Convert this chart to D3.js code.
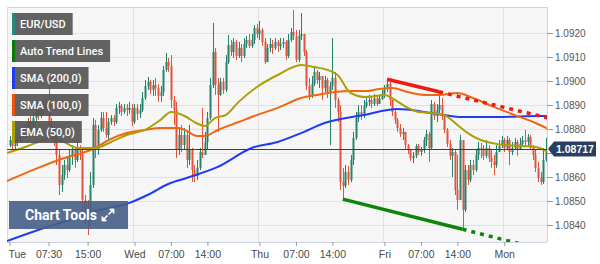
<!DOCTYPE html>
<html><head><meta charset="utf-8">
<script src="https://cdn.jsdelivr.net/npm/d3@7"></script>
<style>html,body{margin:0;padding:0;background:#fff;}svg{display:block;}</style>
</head><body>
<svg id="chart" width="600" height="264"></svg>
<script>
// ---------- DATA ----------
const symbol = "EUR/USD";
const openFirst = 1.08733;
const closes = [
1.08754,1.08729,1.08746,1.08763,1.08788,1.08775,1.08804,1.08829,1.08813,1.08846,
1.08871,1.08854,1.08879,1.08900,1.08871,1.08817,1.08796,1.08754,1.08692,1.08567,
1.08608,1.08650,1.08629,1.08688,1.08713,1.08671,1.08721,1.08704,1.08504,1.08442,
1.08413,1.08567,1.08817,1.08713,1.08796,1.08846,1.08804,1.08775,1.08829,1.08846,
1.08829,1.08888,1.08896,1.08871,1.08888,1.08879,1.08888,1.08829,1.08888,1.08863,
1.08879,1.08929,1.08979,1.08996,1.08963,1.08983,1.08971,1.08938,1.08954,1.09046,
1.09079,1.09063,1.08921,1.08879,1.08713,1.08775,1.08733,1.08775,1.08671,1.08713,
1.08629,1.08604,1.08638,1.08704,1.08692,1.08746,1.08846,1.08983,1.09121,1.08983,
1.08942,1.08996,1.08963,1.09079,1.09150,1.09121,1.09163,1.09104,1.09138,1.09104,
1.09154,1.09171,1.09146,1.09171,1.09221,1.09196,1.09213,1.09163,1.09079,1.09138,
1.09154,1.09138,1.09163,1.09146,1.09154,1.09163,1.09104,1.09171,1.09204,1.09188,
1.09088,1.09188,1.09196,1.09121,1.08979,1.08938,1.08988,1.09038,1.09004,1.09021,
1.08971,1.09004,1.08954,1.08979,1.09013,1.08921,1.08871,1.08579,1.08563,1.08621,
1.08588,1.08671,1.08763,1.08846,1.08871,1.08858,1.08896,1.08913,1.08921,1.08904,
1.08929,1.08904,1.08925,1.08946,1.08971,1.08988,1.08921,1.08871,1.08838,1.08804,
1.08779,1.08788,1.08733,1.08713,1.08679,1.08688,1.08729,1.08704,1.08713,1.08754,
1.08779,1.08721,1.08904,1.08854,1.08879,1.08900,1.08854,1.08796,1.08738,1.08688,
1.08704,1.08546,1.08504,1.08754,1.08463,1.08629,1.08588,1.08650,1.08629,1.08692,
1.08721,1.08713,1.08688,1.08721,1.08679,1.08663,1.08650,1.08704,1.08729,1.08754,
1.08721,1.08754,1.08704,1.08721,1.08746,1.08713,1.08738,1.08754,1.08746,1.08767,
1.08721,1.08692,1.08638,1.08596,1.08579,1.08671,1.08717];
const highs = [
1.08771,1.08763,1.08754,1.08779,1.08804,1.08813,1.08821,1.08846,1.08854,1.08871,
1.08888,1.08888,1.08904,1.08921,1.08929,1.08983,1.08846,1.08821,1.08775,1.08713,
1.08650,1.08671,1.08679,1.08713,1.08733,1.08721,1.08746,1.08733,1.08721,1.08525,
1.08504,1.08621,1.08846,1.08838,1.08817,1.08871,1.08871,1.08871,1.08846,1.08858,
1.08858,1.08904,1.08913,1.08904,1.08904,1.08904,1.08913,1.08904,1.08904,1.08904,
1.08904,1.08954,1.09004,1.09017,1.09004,1.09004,1.09013,1.08988,1.08979,1.09063,
1.09117,1.09096,1.09108,1.08938,1.08913,1.08804,1.08817,1.08804,1.08788,1.08817,
1.08721,1.08650,1.08671,1.08721,1.08888,1.08788,1.08871,1.09013,1.09242,1.09138,
1.09013,1.09013,1.09013,1.09108,1.09192,1.09171,1.09179,1.09171,1.09163,1.09154,
1.09179,1.09188,1.09196,1.09196,1.09233,1.09238,1.09250,1.09221,1.09179,1.09154,
1.09179,1.09171,1.09179,1.09171,1.09179,1.09179,1.09171,1.09196,1.09221,1.09296,
1.09213,1.09213,1.09283,1.09196,1.09129,1.09013,1.09021,1.09063,1.09046,1.09038,
1.08996,1.09021,1.09013,1.08996,1.09179,1.09038,1.08929,1.08900,1.08638,1.08650,
1.08646,1.08692,1.08788,1.08871,1.08900,1.08900,1.08921,1.08938,1.08942,1.08938,
1.08946,1.08938,1.08938,1.08963,1.08983,1.09007,1.08996,1.08921,1.08879,1.08846,
1.08821,1.08804,1.08788,1.08738,1.08713,1.08704,1.08738,1.08738,1.08725,1.08767,
1.08796,1.08788,1.08921,1.08913,1.08904,1.08955,1.08929,1.08863,1.08804,1.08754,
1.08721,1.08713,1.08692,1.08775,1.08754,1.08650,1.08650,1.08671,1.08671,1.08713,
1.08746,1.08742,1.08733,1.08754,1.08733,1.08713,1.08692,1.08733,1.08754,1.08771,
1.08763,1.08771,1.08763,1.08746,1.08763,1.08754,1.08763,1.08771,1.08796,1.08779,
1.08775,1.08733,1.08713,1.08663,1.08621,1.08721,1.08763];
const lows = [
1.08725,1.08713,1.08713,1.08729,1.08746,1.08763,1.08763,1.08796,1.08796,1.08804,
1.08829,1.08838,1.08846,1.08863,1.08858,1.08804,1.08771,1.08729,1.08650,1.08525,
1.08538,1.08588,1.08596,1.08621,1.08650,1.08638,1.08663,1.08671,1.08429,1.08400,
1.08358,1.08396,1.08554,1.08679,1.08692,1.08788,1.08788,1.08763,1.08754,1.08817,
1.08813,1.08821,1.08863,1.08854,1.08863,1.08854,1.08863,1.08813,1.08821,1.08838,
1.08846,1.08871,1.08921,1.08963,1.08946,1.08938,1.08938,1.08913,1.08913,1.08938,
1.09038,1.09038,1.08888,1.08817,1.08679,1.08692,1.08704,1.08713,1.08638,1.08650,
1.08579,1.08579,1.08588,1.08629,1.08679,1.08692,1.08713,1.08838,1.08971,1.08942,
1.08788,1.08938,1.08946,1.08954,1.09071,1.09104,1.09096,1.09088,1.09096,1.09079,
1.09096,1.09138,1.09138,1.09138,1.09154,1.09179,1.09171,1.09146,1.09071,1.09088,
1.09121,1.09113,1.09129,1.09121,1.09129,1.09138,1.09088,1.09096,1.09163,1.09171,
1.09079,1.09079,1.09171,1.09104,1.08963,1.08921,1.08929,1.08979,1.08988,1.08971,
1.08921,1.08954,1.08929,1.08733,1.08963,1.08888,1.08829,1.08546,1.08508,1.08554,
1.08567,1.08579,1.08650,1.08754,1.08829,1.08838,1.08846,1.08888,1.08896,1.08888,
1.08896,1.08896,1.08904,1.08921,1.08929,1.08954,1.08896,1.08854,1.08821,1.08788,
1.08767,1.08754,1.08717,1.08696,1.08667,1.08658,1.08679,1.08692,1.08688,1.08700,
1.08729,1.08663,1.08713,1.08838,1.08829,1.08863,1.08838,1.08783,1.08725,1.08671,
1.08600,1.08525,1.08463,1.08504,1.08382,1.08454,1.08567,1.08579,1.08608,1.08621,
1.08671,1.08679,1.08671,1.08679,1.08663,1.08638,1.08608,1.08638,1.08704,1.08721,
1.08704,1.08713,1.08650,1.08692,1.08713,1.08688,1.08713,1.08729,1.08729,1.08729,
1.08713,1.08671,1.08621,1.08579,1.08567,1.08571,1.08663];

// moving averages: [bar index, value]
const ema50 = [[-1,1.08700],[6,1.08725],[11,1.08746],[16,1.08763],[21,1.08746],[26,1.08721],[33,1.08721],[39,1.08746],[45,1.08775],[52,1.08796],[58,1.08838],[62,1.08871],[68,1.08850],[71,1.08829],[75,1.08813],[79,1.08846],[83,1.08858],[88,1.08913],[95,1.08975],[103,1.09025],[112,1.09067],[117,1.09058],[124,1.09038],[126,1.09025],[131,1.08950],[137,1.08933],[144,1.08942],[148,1.08921],[153,1.08888],[157,1.08871],[162,1.08867],[167,1.08858],[172,1.08817],[176,1.08783],[181,1.08754],[187,1.08738],[197,1.08729],[202,1.08725],[207,1.08704]];
const sma100 = [[-1,1.08583],[11,1.08638],[21,1.08679],[33,1.08721],[38,1.08754],[45,1.08783],[52,1.08796],[58,1.08804],[65,1.08804],[68,1.08792],[72,1.08771],[75,1.08771],[80,1.08796],[88,1.08829],[95,1.08858],[103,1.08888],[112,1.08929],[118,1.08942],[125,1.08954],[131,1.08958],[137,1.08958],[142,1.08967],[147,1.08971],[153,1.08954],[160,1.08942],[165,1.08942],[172,1.08950],[178,1.08929],[186,1.08892],[194,1.08858],[202,1.08825],[207,1.08800]];
const sma200 = [[-1,1.08333],[11,1.08379],[24,1.08425],[33,1.08458],[46,1.08492],[53,1.08525],[61,1.08571],[68,1.08596],[80,1.08642],[93,1.08721],[103,1.08746],[112,1.08783],[121,1.08825],[136,1.08858],[149,1.08883],[162,1.08867],[174,1.08850],[187,1.08850],[204,1.08854],[207,1.08854]];

// auto trend lines: two anchor points [bar index, price]
const resistance = [[145,1.09007],[165,1.08955]];
const support = [[128,1.08508],[174,1.08382]];
const lastPrice = 1.08717;

const priceTicks = [1.0840,1.0850,1.0860,1.0870,1.0880,1.0890,1.0900,1.0910,1.0920];
const timeTickIndex = [0,15,30,48,62,76,96,110,124,144,158,172,190];
const timeTickLabels = ["Tue","07:30","15:00","Wed","07:00","14:00","Thu","07:00","14:00","Fri","07:00","14:00","Mon"];
const dayStartIndex = [48,96,144,190];
const legendLabels = ["EUR/USD","Auto Trend Lines","SMA (200,0)","SMA (100,0)","EMA (50,0)"];

// ---------- STYLE ----------
const legendColors = ["#2a8a78","#0b7a0b","#1f3cf5","#ea5410","#ada000"];
const upColor = "#24836a", downColor = "#e1533b";
const P = {left:7,right:547,top:7,bottom:242};

const svg = d3.select("#chart");
const x = d3.scaleLinear().domain([0,206]).range([9.5,545.9]);
const y = d3.scaleLinear().domain([1.0840,1.0920]).range([225,33]);

svg.append("rect").attr("x",P.left).attr("y",P.top).attr("width",P.right-P.left).attr("height",P.bottom-P.top).attr("fill","#f6f6f6");

// grid
svg.append("g").selectAll("line").data(priceTicks).join("line")
  .attr("x1",P.left).attr("x2",P.right)
  .attr("y1",d=>Math.round(y(d))+0.5).attr("y2",d=>Math.round(y(d))+0.5)
  .attr("stroke","#e1e1e1");
svg.append("g").selectAll("line").data(dayStartIndex).join("line")
  .attr("y1",P.top).attr("y2",P.bottom)
  .attr("x1",d=>Math.round(x(d))-0.5).attr("x2",d=>Math.round(x(d))-0.5)
  .attr("stroke","#e1e1e1");

// borders
svg.append("line").attr("x1",P.left).attr("x2",P.right).attr("y1",P.top+0.5).attr("y2",P.top+0.5).attr("stroke","#cdd3e1");
svg.append("line").attr("x1",P.left+0.5).attr("x2",P.left+0.5).attr("y1",P.top).attr("y2",P.bottom).attr("stroke","#dcdcdc");

svg.append("defs").append("clipPath").attr("id","clip").append("rect")
  .attr("x",P.left).attr("y",P.top).attr("width",P.right-P.left).attr("height",P.bottom-P.top);
const plot = svg.append("g").attr("clip-path","url(#clip)");

// candles
const bars = closes.map((c,i)=>({i, o: i===0?openFirst:closes[i-1], c, h:highs[i], l:lows[i]}));
const cg = plot.append("g");
cg.selectAll("line").data(bars).join("line")
  .attr("x1",d=>Math.round(x(d.i))+0.5).attr("x2",d=>Math.round(x(d.i))+0.5)
  .attr("y1",d=>y(d.h)).attr("y2",d=>y(d.l))
  .attr("stroke",d=>d.c>=d.o?upColor:downColor).attr("stroke-width",1);
cg.selectAll("rect").data(bars).join("rect")
  .attr("x",d=>Math.round(x(d.i))-0.5).attr("width",2)
  .attr("y",d=>y(Math.max(d.o,d.c)))
  .attr("height",d=>Math.max(1,Math.abs(y(d.o)-y(d.c))))
  .attr("fill",d=>d.c>=d.o?upColor:downColor);

// moving averages
const line = d3.line().x(d=>x(d[0])).y(d=>y(d[1])).curve(d3.curveMonotoneX);
[[sma200,"#1f3cf5"],[sma100,"#f0670f"],[ema50,"#ad9f05"]].forEach(([data,col])=>{
  plot.append("path").datum(data).attr("d",line).attr("fill","none").attr("stroke",col).attr("stroke-width",2);
});

// trend lines
function extend(seg, toIdx){
  const [a,b]=seg; const s=(b[1]-a[1])/(b[0]-a[0]);
  return [b,[toIdx,b[1]+s*(toIdx-b[0])]];
}
function drawTrend(seg,col){
  const l2 = d3.line().x(d=>x(d[0])).y(d=>y(d[1]));
  plot.append("path").datum(seg).attr("d",l2).attr("stroke",col).attr("stroke-width",3.5).attr("fill","none");
  plot.append("path").datum(extend(seg,212)).attr("d",l2).attr("stroke",col).attr("stroke-width",3.5)
    .attr("stroke-dasharray","4,5").attr("fill","none");
}
drawTrend(resistance,"#f01a14");
drawTrend(support,"#0b860b");

// last price line
plot.append("line").attr("x1",P.left).attr("x2",P.right)
  .attr("y1",Math.round(y(lastPrice))+0.5).attr("y2",Math.round(y(lastPrice))+0.5)
  .attr("stroke","#27405f").attr("stroke-width",1);

// axes (the 1.0870 label sits under the last-price tag, so it is not printed)
const yAxis = svg.append("g").attr("transform",`translate(${P.right},0)`)
  .call(d3.axisRight(y).tickValues(priceTicks)
    .tickFormat(d=>Math.abs(d-lastPrice)<0.0003?"":d3.format(".4f")(d)).tickSize(6).tickPadding(2));
yAxis.select(".domain").attr("stroke","#cdd3e1").attr("d",`M0.5,${P.top}V${P.bottom}`);
yAxis.selectAll(".tick line").attr("stroke","#999");
yAxis.selectAll("text").attr("fill","#555").style("font","10px 'Liberation Sans',Arial,sans-serif");

const xAxis = svg.append("g").attr("transform",`translate(0,${P.bottom})`)
  .call(d3.axisBottom(x).tickValues(timeTickIndex).tickFormat((d,i)=>timeTickLabels[i]).tickSize(4).tickPadding(5));
xAxis.select(".domain").attr("stroke","#cdd3e1").attr("d",`M${P.left},0.5H${P.right}`);
xAxis.selectAll(".tick line").attr("stroke","#999");
xAxis.selectAll("text").attr("fill","#4a4a4a").style("font","10.5px 'Liberation Sans',Arial,sans-serif");
xAxis.selectAll("text").filter((d,i)=>i===0).attr("text-anchor","start").attr("x",-1.5);

// legend boxes
const lg = svg.append("g");
legendLabels.forEach((t,k)=>{
  const top = 13 + k*27;
  const g = lg.append("g");
  const txt = g.append("text").attr("x",20).attr("y",top+15).attr("fill","#fff")
    .style("font","500 11px Roboto,'Liberation Sans',Arial,sans-serif").text(t);
  const w = txt.node().getComputedTextLength();
  g.insert("rect","text").attr("x",12).attr("y",top).attr("width",w+15).attr("height",22).attr("fill","rgba(85,85,85,0.92)");
  g.insert("rect","text").attr("x",12).attr("y",top).attr("width",3).attr("height",22).attr("fill",legendColors[k]);
});

// chart tools button
const ct = svg.append("g");
ct.append("rect").attr("x",9).attr("y",201).attr("width",119).attr("height",28).attr("fill","rgba(70,95,135,0.9)");
ct.append("text").attr("x",25).attr("y",220).attr("fill","#fff")
  .style("font","bold 14px Roboto,'Liberation Sans',Arial,sans-serif").text("Chart Tools");
ct.append("path").attr("d","M103,220 L107.5,215.5 M108.5,214.5 L113,210")
  .attr("stroke","#fff").attr("stroke-width",1.6);
ct.append("path").attr("d","M102,221 L102,216.5 L106.5,221 Z M114,209 L114,213.5 L109.5,209 Z").attr("fill","#fff").attr("stroke","#fff").attr("stroke-width",0.8);

// last price tag
const ly = y(lastPrice);
svg.append("path").attr("d",`M548,${ly} L554,${ly-7.5} H596 V${ly+7.5} H554 Z`).attr("fill","#2a3f5f");
svg.append("text").attr("x",556).attr("y",ly+4).attr("fill","#fff")
  .style("font","bold 10.5px 'Liberation Sans',Arial,sans-serif").text(d3.format(".5f")(lastPrice));
</script>
</body></html>
